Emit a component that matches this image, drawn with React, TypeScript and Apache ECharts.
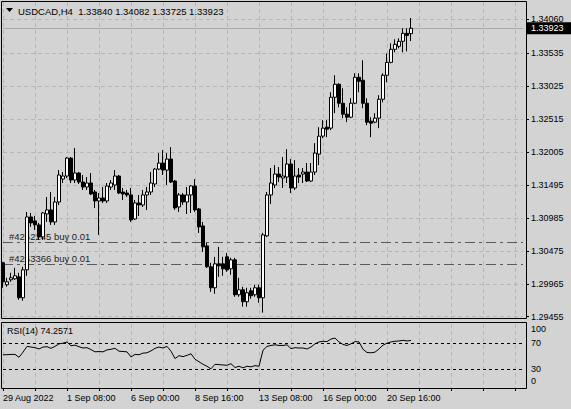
import React, { useEffect, useRef } from 'react';
import * as echarts from 'echarts';

// ---- data (H4 bars, 29 Aug 2022 16:00 onward) ----
const opens = [
  1.30290, 1.29950, 1.30027, 1.30042, 1.30073, 1.29749, 1.30181, 1.31000, 1.30939, 1.30877,
  1.30691, 1.31047, 1.31109, 1.30923, 1.31232, 1.31588, 1.31634, 1.31912, 1.31572, 1.31681,
  1.31541, 1.31464, 1.31526, 1.31387, 1.31248, 1.31294, 1.31248, 1.31464, 1.31495, 1.31634,
  1.31387, 1.31371, 1.31341, 1.30969, 1.31217, 1.31186, 1.31341, 1.31387, 1.31511, 1.31742,
  1.31835, 1.31727, 1.31897, 1.31557, 1.31155, 1.31341, 1.31232, 1.31341, 1.31480, 1.31124,
  1.30861, 1.30552, 1.30228, 1.29903, 1.30274, 1.30274, 1.30382, 1.30197, 1.30336, 1.29795,
  1.29872, 1.29687, 1.29857, 1.29795, 1.29903, 1.29749, 1.30707, 1.31341, 1.31495, 1.31665,
  1.31603, 1.31619, 1.31820, 1.31449, 1.31650, 1.31665, 1.31696, 1.31557, 1.31696, 1.31974,
  1.32252, 1.32391, 1.32376, 1.32855, 1.33056, 1.32762, 1.32592, 1.32546, 1.32762, 1.33164,
  1.33118, 1.32762, 1.32484, 1.32469, 1.32531, 1.32824, 1.33195, 1.33395, 1.33597, 1.33643,
  1.33721, 1.33844, 1.33840,
];
const closes = [
  1.29996, 1.29996, 1.30058, 1.30089, 1.29749, 1.30181, 1.31000, 1.30908, 1.30877, 1.30691,
  1.31062, 1.31109, 1.30923, 1.31232, 1.31650, 1.31634, 1.31912, 1.31572, 1.31681, 1.31541,
  1.31464, 1.31526, 1.31356, 1.31248, 1.31294, 1.31248, 1.31480, 1.31526, 1.31634, 1.31371,
  1.31356, 1.31341, 1.30954, 1.31217, 1.31186, 1.31341, 1.31387, 1.31526, 1.31742, 1.31835,
  1.31727, 1.31897, 1.31541, 1.31140, 1.31341, 1.31232, 1.31341, 1.31480, 1.31109, 1.30846,
  1.30537, 1.30228, 1.29903, 1.30274, 1.30243, 1.30197, 1.30181, 1.30336, 1.29795, 1.29872,
  1.29687, 1.29826, 1.29780, 1.29903, 1.29749, 1.30722, 1.31341, 1.31526, 1.31665, 1.31619,
  1.31634, 1.31820, 1.31449, 1.31634, 1.31619, 1.31696, 1.31557, 1.31696, 1.31990, 1.32252,
  1.32376, 1.32360, 1.32855, 1.33056, 1.32762, 1.32592, 1.32546, 1.32762, 1.33164, 1.33102,
  1.32762, 1.32469, 1.32453, 1.32531, 1.32824, 1.33195, 1.33395, 1.33597, 1.33674, 1.33721,
  1.33844, 1.33813, 1.33923,
];
const lows = [
  1.29903, 1.29919, 1.29996, 1.30027, 1.29718, 1.29702, 1.30089, 1.30846, 1.30800, 1.30645,
  1.30645, 1.30923, 1.30877, 1.30877, 1.31186, 1.31526, 1.31603, 1.31526, 1.31526, 1.31511,
  1.31418, 1.31418, 1.31341, 1.31140, 1.30722, 1.31217, 1.31217, 1.31418, 1.31418, 1.31356,
  1.31263, 1.31310, 1.30923, 1.30954, 1.31016, 1.31155, 1.31109, 1.31341, 1.31464, 1.31727,
  1.31650, 1.31495, 1.31526, 1.31109, 1.31078, 1.31186, 1.31047, 1.31062, 1.31078, 1.30753,
  1.30460, 1.30212, 1.29841, 1.29810, 1.30073, 1.30089, 1.30150, 1.30104, 1.29764, 1.29764,
  1.29610, 1.29610, 1.29733, 1.29764, 1.29671, 1.29517, 1.30691, 1.31201, 1.31449, 1.31541,
  1.31449, 1.31526, 1.31371, 1.31418, 1.31526, 1.31526, 1.31541, 1.31541, 1.31650, 1.31804,
  1.32221, 1.32237, 1.32345, 1.32608, 1.32700, 1.32531, 1.32469, 1.32531, 1.32747, 1.32932,
  1.32685, 1.32422, 1.32236, 1.32453, 1.32376, 1.32777, 1.33087, 1.33380, 1.33551, 1.33612,
  1.33551, 1.33566, 1.33725,
];
const highs = [
  1.30305, 1.30058, 1.30135, 1.30212, 1.30135, 1.30228, 1.31078, 1.31062, 1.31016, 1.30908,
  1.31078, 1.31310, 1.31387, 1.31310, 1.31727, 1.31696, 1.31928, 1.31928, 1.32067, 1.31696,
  1.31650, 1.31619, 1.31681, 1.31418, 1.31371, 1.31464, 1.31526, 1.31572, 1.31727, 1.31650,
  1.31449, 1.31418, 1.31449, 1.31263, 1.31341, 1.31418, 1.31464, 1.31696, 1.31758, 1.31990,
  1.32036, 1.31990, 1.32082, 1.31572, 1.31371, 1.31371, 1.31464, 1.31495, 1.31588, 1.31140,
  1.30923, 1.30598, 1.30290, 1.30382, 1.30537, 1.30382, 1.30444, 1.30367, 1.30367, 1.30058,
  1.29919, 1.29903, 1.29903, 1.29950, 1.29950, 1.30753, 1.31387, 1.31758, 1.31804, 1.31773,
  1.31928, 1.32051, 1.31897, 1.31881, 1.31758, 1.31758, 1.31835, 1.31835, 1.32144, 1.32391,
  1.32500, 1.32500, 1.32932, 1.33195, 1.33070, 1.32994, 1.32700, 1.32840, 1.33226, 1.33226,
  1.33427, 1.32840, 1.32546, 1.32608, 1.32886, 1.33226, 1.33535, 1.33690, 1.33752, 1.33767,
  1.33922, 1.33922, 1.34082,
];
const rsi = [
  52, 52, 52.5, 52.5, 48, 56, 65, 64, 63, 61,
  64, 64.5, 62, 65, 69, 70, 72, 66, 67, 64.5,
  62.5, 63, 60, 56.5, 57, 56.5, 59.5, 60.5, 62, 57.5,
  57, 56.5, 48.5, 52.5, 52, 54.5, 55, 58, 62, 64,
  62.5, 65, 57.5, 46, 50.5, 49, 51, 53.5, 45, 41,
  37, 34, 30, 37, 36.5, 36, 35.5, 38, 32, 34,
  31.5, 34, 33, 35, 34, 59, 65, 66.5, 67.5, 66.5,
  66.5, 67.5, 61.5, 63, 62.5, 62.5, 61, 64, 69, 72,
  73, 72.5, 76.5, 78, 72, 68, 66.5, 69, 72.5, 72,
  60.5, 55.5, 55, 56, 61, 67, 70, 72, 73, 73.5,
  74.5, 73.5, 74.2571,
];
const dateLabels = ['29 Aug 2022', '1 Sep 08:00', '6 Sep 00:00', '8 Sep 16:00', '13 Sep 08:00', '16 Sep 00:00', '20 Sep 16:00'];
const priceTicks = [1.29455, 1.29965, 1.30475, 1.30985, 1.31495, 1.32005, 1.32515, 1.33025, 1.33535, 1.34060];
const rsiTicks = [0, 30, 70, 100];
const rsiLevels = [70, 30];
const orderLabels = ['#4262245 buy 0.01', '#4263366 buy 0.01'];
const orderPrices = [1.30603, 1.30270];
const symbolName = 'USDCAD,H4';
const bidPrice = 1.33923;
const SLOTS = 131; // bar slots across the window (includes the empty shift area)
const LABEL_EVERY = 16;
const GRID_EVERY = 8;

const FONT = '"Liberation Sans", Arial, sans-serif';
const GRID_COLOR = '#b6b6b6';

export default function App() {
  const ref = useRef<HTMLDivElement>(null);
  useEffect(() => {
    if (!ref.current) return;
    const chart = echarts.init(ref.current, undefined, { renderer: 'svg' });
    const cats = Array.from({ length: SLOTS }, (_, i) => String(i));
    const candles = opens.map((o, i) => [o, closes[i], lows[i], highs[i]]);
    const last = opens.length - 1;
    const title = `${symbolName}  ${opens[last].toFixed(5)} ${highs[last].toFixed(5)} ${lows[last].toFixed(5)} ${closes[last].toFixed(5)}`;
    const splitLine = {
      show: true,
      interval: (i: number) => i % GRID_EVERY === 0,
      lineStyle: { color: GRID_COLOR, type: [4, 3], width: 1 },
    };
    const option: any = {
      animation: false,
      backgroundColor: '#d3d3d3',
      textStyle: { fontFamily: FONT },
      grid: [
        { left: 3, top: 2, width: 520, height: 316 },
        { left: 3, top: 324, width: 520, height: 64 },
      ],
      xAxis: [
        {
          gridIndex: 0, type: 'category', data: cats, boundaryGap: false,
          axisLine: { show: false }, axisTick: { show: false }, axisLabel: { show: false },
          splitLine,
        },
        {
          gridIndex: 1, type: 'category', data: cats, boundaryGap: false,
          axisLine: { show: false },
          axisTick: { show: true, interval: (i: number) => i % GRID_EVERY === 0, length: 3, lineStyle: { color: '#000' } },
          axisLabel: {
            show: true,
            interval: (i: number) => i % LABEL_EVERY === 0 && i / LABEL_EVERY < dateLabels.length,
            formatter: (_v: string, i: number) => dateLabels[i / LABEL_EVERY] ?? '',
            align: 'left', margin: 5, fontSize: 9, color: '#000', fontFamily: FONT,
          },
          splitLine,
        },
      ],
      yAxis: [
        {
          gridIndex: 0, type: 'value', position: 'right', offset: 3,
          min: 1.29435, max: 1.3433, scale: true,
          axisLine: { show: false },
          axisTick: { show: true, customValues: priceTicks, length: 3, lineStyle: { color: '#000' } },
          axisLabel: {
            customValues: priceTicks, formatter: (v: number) => v.toFixed(5),
            margin: 5, fontSize: 9, color: '#000', fontFamily: FONT,
          },
          splitLine: { show: false },
        },
        {
          gridIndex: 1, type: 'value', position: 'right', offset: 3, min: 0, max: 100,
          axisLine: { show: false }, axisTick: { show: false }, splitLine: { show: false },
          axisLabel: {
            customValues: rsiTicks,
            formatter: (v: number) => (v === 100 ? `{dn|${v}}` : v === 0 ? `{up|${v}}` : `{n|${v}}`),
            margin: 5, fontSize: 9, color: '#000', fontFamily: FONT,
            rich: {
              dn: { padding: [10, 0, 0, 0], fontSize: 9, fontFamily: FONT },
              up: { padding: [0, 0, 14, 0], fontSize: 9, fontFamily: FONT },
              n: { fontSize: 9, fontFamily: FONT },
            },
          },
        },
      ],
      series: [
        {
          type: 'line', xAxisIndex: 0, yAxisIndex: 0, data: [], z: 1, silent: true,
          markLine: {
            symbol: 'none', silent: true, animation: false, precision: 5,
            data: [
              ...priceTicks.map((p) => ({
                yAxis: p, label: { show: false },
                lineStyle: { color: GRID_COLOR, type: [4, 3], width: 1 },
              })),
              ...orderPrices.map((p, k) => ({
                yAxis: p,
                lineStyle: { color: '#5a5a5a', type: [10, 4, 3, 4], width: 1 },
                label: {
                  show: true, position: 'insideStartTop', formatter: orderLabels[k],
                  color: '#1e1e1e', fontSize: 9.5, fontFamily: FONT, distance: [6, 1],
                },
              })),
              {
                yAxis: bidPrice,
                lineStyle: { color: '#a9a9a9', type: 'solid', width: 1 },
                label: {
                  show: true, position: 'end', formatter: bidPrice.toFixed(5),
                  backgroundColor: '#000', color: '#fff', fontSize: 9, fontFamily: FONT,
                  padding: [2, 12, 1, 5], distance: 3,
                },
              },
            ],
          },
        },
        {
          type: 'candlestick', xAxisIndex: 0, yAxisIndex: 0, data: candles, barWidth: 3, z: 5, clip: false,
          itemStyle: {
            color: '#ffffff', color0: '#000000', borderColor: '#000000', borderColor0: '#000000',
            borderColorDoji: '#000000', borderWidth: 1,
          },
        },
        {
          type: 'line', xAxisIndex: 1, yAxisIndex: 1, data: rsi, symbol: 'none', z: 4,
          lineStyle: { color: '#000', width: 1 },
          markLine: {
            symbol: 'none', silent: true, label: { show: false }, precision: 5,
            lineStyle: { color: '#000', type: [3, 3], width: 1 },
            data: rsiLevels.map((v) => ({ yAxis: v })),
          },
        },
      ],
      graphic: [
        { type: 'rect', z: 50, shape: { x: 1.5, y: 1.5, width: 525, height: 317 }, style: { fill: 'none', stroke: '#000', lineWidth: 1 } },
        { type: 'rect', z: 50, shape: { x: 1.5, y: 322.5, width: 525, height: 66 }, style: { fill: 'none', stroke: '#000', lineWidth: 1 } },
        { type: 'polygon', z: 50, shape: { points: [[6, 8], [13, 8], [9.5, 12]] }, style: { fill: '#000' } },
        {
          type: 'text', z: 50, x: 18, y: 11,
          style: { text: title, fill: '#000', font: `9.5px ${FONT}`, verticalAlign: 'middle' },
        },
        {
          type: 'text', z: 50, x: 7, y: 331,
          style: { text: `RSI(14) ${rsi[rsi.length - 1].toFixed(4)}`, fill: '#000', font: `9px ${FONT}`, verticalAlign: 'middle' },
        },
      ],
    };
    chart.setOption(option);
    return () => chart.dispose();
  }, []);
  return (
    <div
      ref={ref}
      style={{ position: 'fixed', left: 0, top: 0, width: 571, height: 409 }}
    />
  );
}
